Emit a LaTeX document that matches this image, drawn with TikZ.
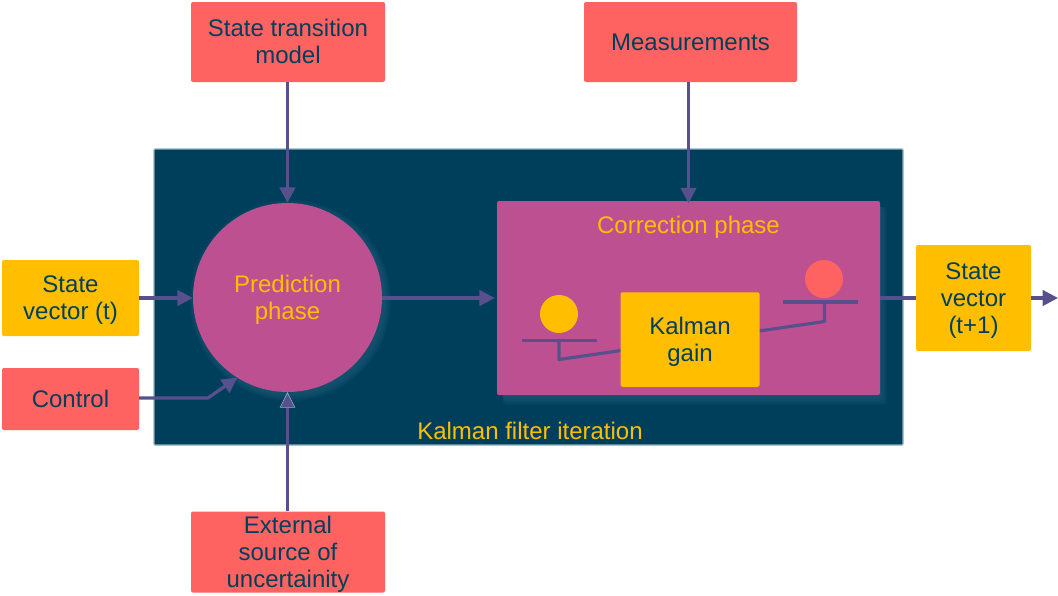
\documentclass[tikz,border=0pt]{standalone}
\usepackage{fontspec}
\setmainfont{Liberation Sans}
\usetikzlibrary{arrows.meta,calc}
\definecolor{navy}{HTML}{003F5C}
\definecolor{plum}{HTML}{58508D}
\definecolor{mag}{HTML}{BC5090}
\definecolor{coral}{HTML}{FF6361}
\definecolor{amber}{HTML}{FFBF00}
\definecolor{edgeblue}{HTML}{8FB0BE}
\definecolor{glow}{HTML}{2A6480}
\newcommand\tl[1]{\raisebox{-2.7pt}[\height][\depth]{\begin{tabular}{@{}c@{}}#1\end{tabular}}}
\tikzset{
  x=1pt,y=-1pt,
  txt/.style={font=\fontsize{24}{27}\selectfont,text=navy,inner sep=0pt},
  boxbase/.style={txt,rounded corners=2pt,anchor=center},
  redbox/.style={boxbase,fill=coral},
  ambox/.style={boxbase,fill=amber},
  lbl/.style={txt,text=amber},
  conn/.style={draw=plum,line width=3.2pt},
  arr/.style={conn,-{Triangle[length=15.5pt,width=15.5pt]}},
  arrlit/.style={conn,-{Triangle[length=15.5pt,width=15.5pt,fill=plum,color=edgeblue,line width=0.6pt]}},
  filterbox/.style={rounded corners=1pt,fill=navy,draw=edgeblue,line width=1.2pt,inner sep=0pt,minimum width=749pt,minimum height=296pt},
  corrbox/.style={rounded corners=2pt,fill=mag,inner sep=0pt,minimum width=383pt,minimum height=194pt},
  predcirc/.style={circle,fill=mag,inner sep=0pt,minimum size=189pt,font=\fontsize{24}{27}\selectfont,text=amber},
  dot/.style={circle,inner sep=0pt,minimum size=38pt},
  soft/.style={fill=glow,opacity=0.12}
}
\begin{document}
\begin{tikzpicture}
\useasboundingbox (0,0) rectangle (1058,595);
\node[filterbox] (filter) at (528.5,297) {};
% soft shadows, falling to the lower right
\foreach \r in {0,1.5,3,4.5,6}{
  \fill[soft] (290.5,300.5) circle ({94.5+\r});
  \fill[soft,rounded corners=3pt] (503,207) rectangle ({881+\r},{399+\r});
}
\node[predcirc] (pred) at (287.5,297.5) {\tl{Prediction\\phase}};
\node[corrbox] (corr) at (688.5,298) {};
\node[lbl] (corrlbl) at (688.5,225) {\tl{Correction phase}};
\node[lbl] (filterlbl) at (530,431) {\tl{Kalman filter iteration}};
\node[redbox,minimum width=194pt,minimum height=80pt] (stm) at (288,42) {\tl{State transition\\model}};
\node[redbox,minimum width=213pt,minimum height=80pt] (meas) at (690.5,42) {\tl{Measurements}};
\node[ambox,minimum width=137pt,minimum height=76pt] (sv) at (70.5,298) {\tl{State\\vector (t)}};
\node[redbox,minimum width=137pt,minimum height=62pt] (ctrl) at (70.5,399) {\tl{Control}};
\node[redbox,minimum width=194pt,minimum height=80pt] (ext) at (288,552) {\tl{External\\source of\\uncertainity}};
\node[ambox,minimum width=115pt,minimum height=106pt] (svn) at (973.5,298) {\tl{State\\vector\\(t+1)}};
\coordinate (outend) at (1058,298);
\coordinate (bend) at (208,398);
\coordinate (predin) at (237.5,377.5);
% balance
\coordinate (lbarA) at (522,340.5);
\coordinate (lbarB) at (597,340.5);
\coordinate (lstemT) at (559,340.5);
\coordinate (lstemB) at (559,359.5);
\coordinate (lend) at (621,350.5);
\coordinate (rbarA) at (783,302);
\coordinate (rbarB) at (858,302);
\coordinate (rstemT) at (824.5,302);
\coordinate (rstemB) at (824.5,321.5);
\coordinate (rend) at (759,331);
\draw[conn] (lbarA) -- (lbarB);
\draw[conn,line join=round] (lstemT) -- (lstemB) -- (lend);
\draw[conn] (rbarA) -- (rbarB);
\draw[conn,line join=round] (rstemT) -- (rstemB) -- (rend);
\node[dot,fill=amber] (ldot) at (559,314) {};
\node[dot,fill=coral] (rdot) at (824,279) {};
\node[ambox,minimum width=139pt,minimum height=94.5pt] (gain) at (690,339.5) {\tl{Kalman\\gain}};
% connectors
\draw[arr] (stm.south -| pred.north) -- (pred.north);
\draw[arr,shorten >=-2.5pt] (meas.south -| corr.north) -- (corr.north);
\draw[arr] (sv.east) -- (sv.east -| pred.west);
\draw[arr,shorten >=2pt] (pred.east |- corr.west) -- (corr.west);
\draw[arrlit] (ext.north -| pred.south) -- (pred.south);
\draw[arr,line join=round] (ctrl.east |- bend) -- (bend) -- (predin);
\draw[conn] (corr.east) -- (svn.west);
\draw[arr] (svn.east) -- (outend);
\end{tikzpicture}
\end{document}
